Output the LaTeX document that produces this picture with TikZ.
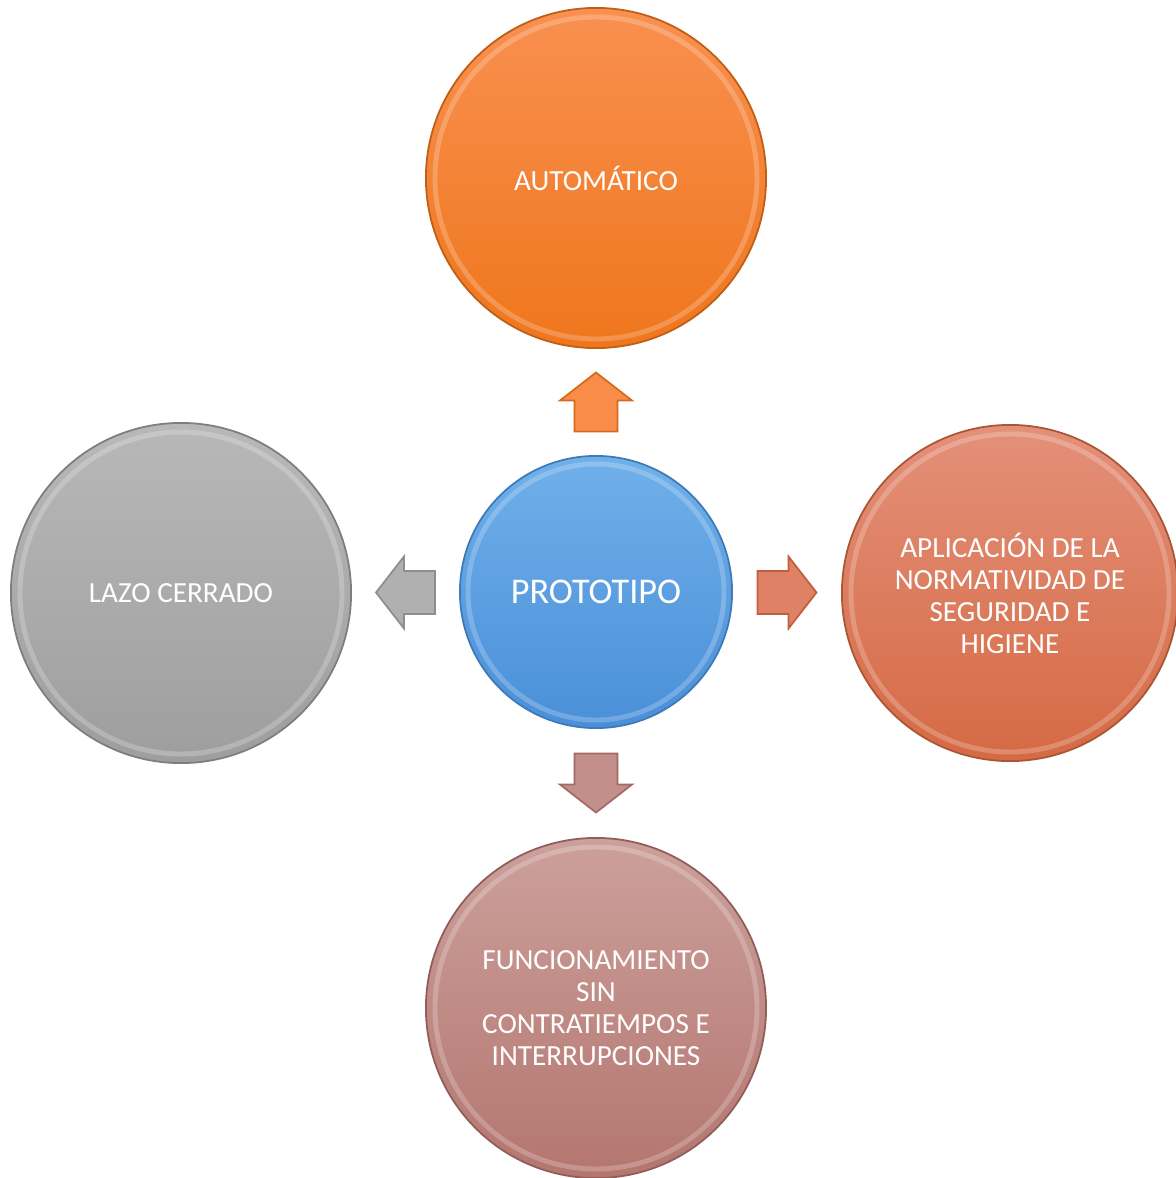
\documentclass[tikz,border=0pt]{standalone}
\usepackage{fontspec}
\setmainfont{Carlito}
\usetikzlibrary{positioning, calc}

\definecolor{orangeTop}{HTML}{F99050}
\definecolor{orangeBot}{HTML}{EF761C}
\definecolor{blueTop}{HTML}{70B0EA}
\definecolor{blueBot}{HTML}{4A8FD8}
\definecolor{grayTop}{HTML}{B8B8B8}
\definecolor{grayBot}{HTML}{9E9E9E}
\definecolor{salmonTop}{HTML}{E4907A}
\definecolor{salmonBot}{HTML}{D56A44}
\definecolor{roseTop}{HTML}{CCA09C}
\definecolor{roseBot}{HTML}{B4766F}

\tikzset{
  orb/.style={circle, minimum size=3.4cm, inner sep=0pt, text=white,
    align=center, font=\fontsize{8.3}{9.1}\selectfont, line width=0.5pt},
  rim/.style={white, opacity=0.22, line width=1.4pt},
  blockarrow/.style={line width=0.5pt}
}

\begin{document}
\begin{tikzpicture}[x=0.01cm, y=-0.01cm]
\useasboundingbox (0,0) rectangle (1176,1178);
% the five circles
\node[orb, minimum size=2.72cm, top color=blueTop, bottom color=blueBot, draw=blueBot!85!black,
  font=\fontsize{10.3}{12}\selectfont] (proto) at (596,592) {PROTOTIPO};
\node[orb, top color=orangeTop, bottom color=orangeBot, draw=orangeBot!80!black]
  (auto) at (596,178) {AUTOMÁTICO};
\node[orb, top color=grayTop, bottom color=grayBot, draw=grayBot!80!black]
  (lazo) at (181,593) {LAZO CERRADO};
\node[orb, minimum size=3.36cm, top color=salmonTop, bottom color=salmonBot, draw=salmonBot!80!black]
  (norma) at (1010,593) {APLICACIÓN DE LA\\NORMATIVIDAD DE\\SEGURIDAD E\\HIGIENE};
\node[orb, top color=roseTop, bottom color=roseBot, draw=roseBot!80!black]
  (func) at (596,1008) {FUNCIONAMIENTO\\SIN\\CONTRATIEMPOS E\\INTERRUPCIONES};
% light inner rims
\draw[rim] (proto.center) circle[radius=128];
\draw[rim] (auto.center) circle[radius=161];
\draw[rim] (lazo.center) circle[radius=161];
\draw[rim] (norma.center) circle[radius=159];
\draw[rim] (func.center) circle[radius=161];
% block arrows between the centre and each circle
\begin{scope}[shift={($(proto.north)!0.5!(auto.south)$)}, rotate=90]
\draw[blockarrow, fill=orangeTop!85!orangeBot, draw=orangeBot!90!black]
  (-29.5,-21.5) -- (1.5,-21.5) -- (1.5,-36) -- (29.5,0) -- (1.5,36) -- (1.5,21.5) -- (-29.5,21.5) -- cycle;
\end{scope}
\begin{scope}[shift={($(proto.west)!0.5!(lazo.east)$)}, rotate=180]
\draw[blockarrow, fill=grayTop!70!grayBot, draw=grayBot!90!black]
  (-29.5,-21.5) -- (1.5,-21.5) -- (1.5,-36) -- (29.5,0) -- (1.5,36) -- (1.5,21.5) -- (-29.5,21.5) -- cycle;
\end{scope}
\begin{scope}[shift={($(proto.east)!0.5!(norma.west)$)}]
\draw[blockarrow, fill=salmonTop!60!salmonBot, draw=salmonBot!90!black]
  (-29.5,-21.5) -- (1.5,-21.5) -- (1.5,-36) -- (29.5,0) -- (1.5,36) -- (1.5,21.5) -- (-29.5,21.5) -- cycle;
\end{scope}
\begin{scope}[shift={($(proto.south)!0.5!(func.north)$)}, rotate=-90]
\draw[blockarrow, fill=roseTop!60!roseBot, draw=roseBot!90!black]
  (-29.5,-21.5) -- (1.5,-21.5) -- (1.5,-36) -- (29.5,0) -- (1.5,36) -- (1.5,21.5) -- (-29.5,21.5) -- cycle;
\end{scope}
\end{tikzpicture}
\end{document}
